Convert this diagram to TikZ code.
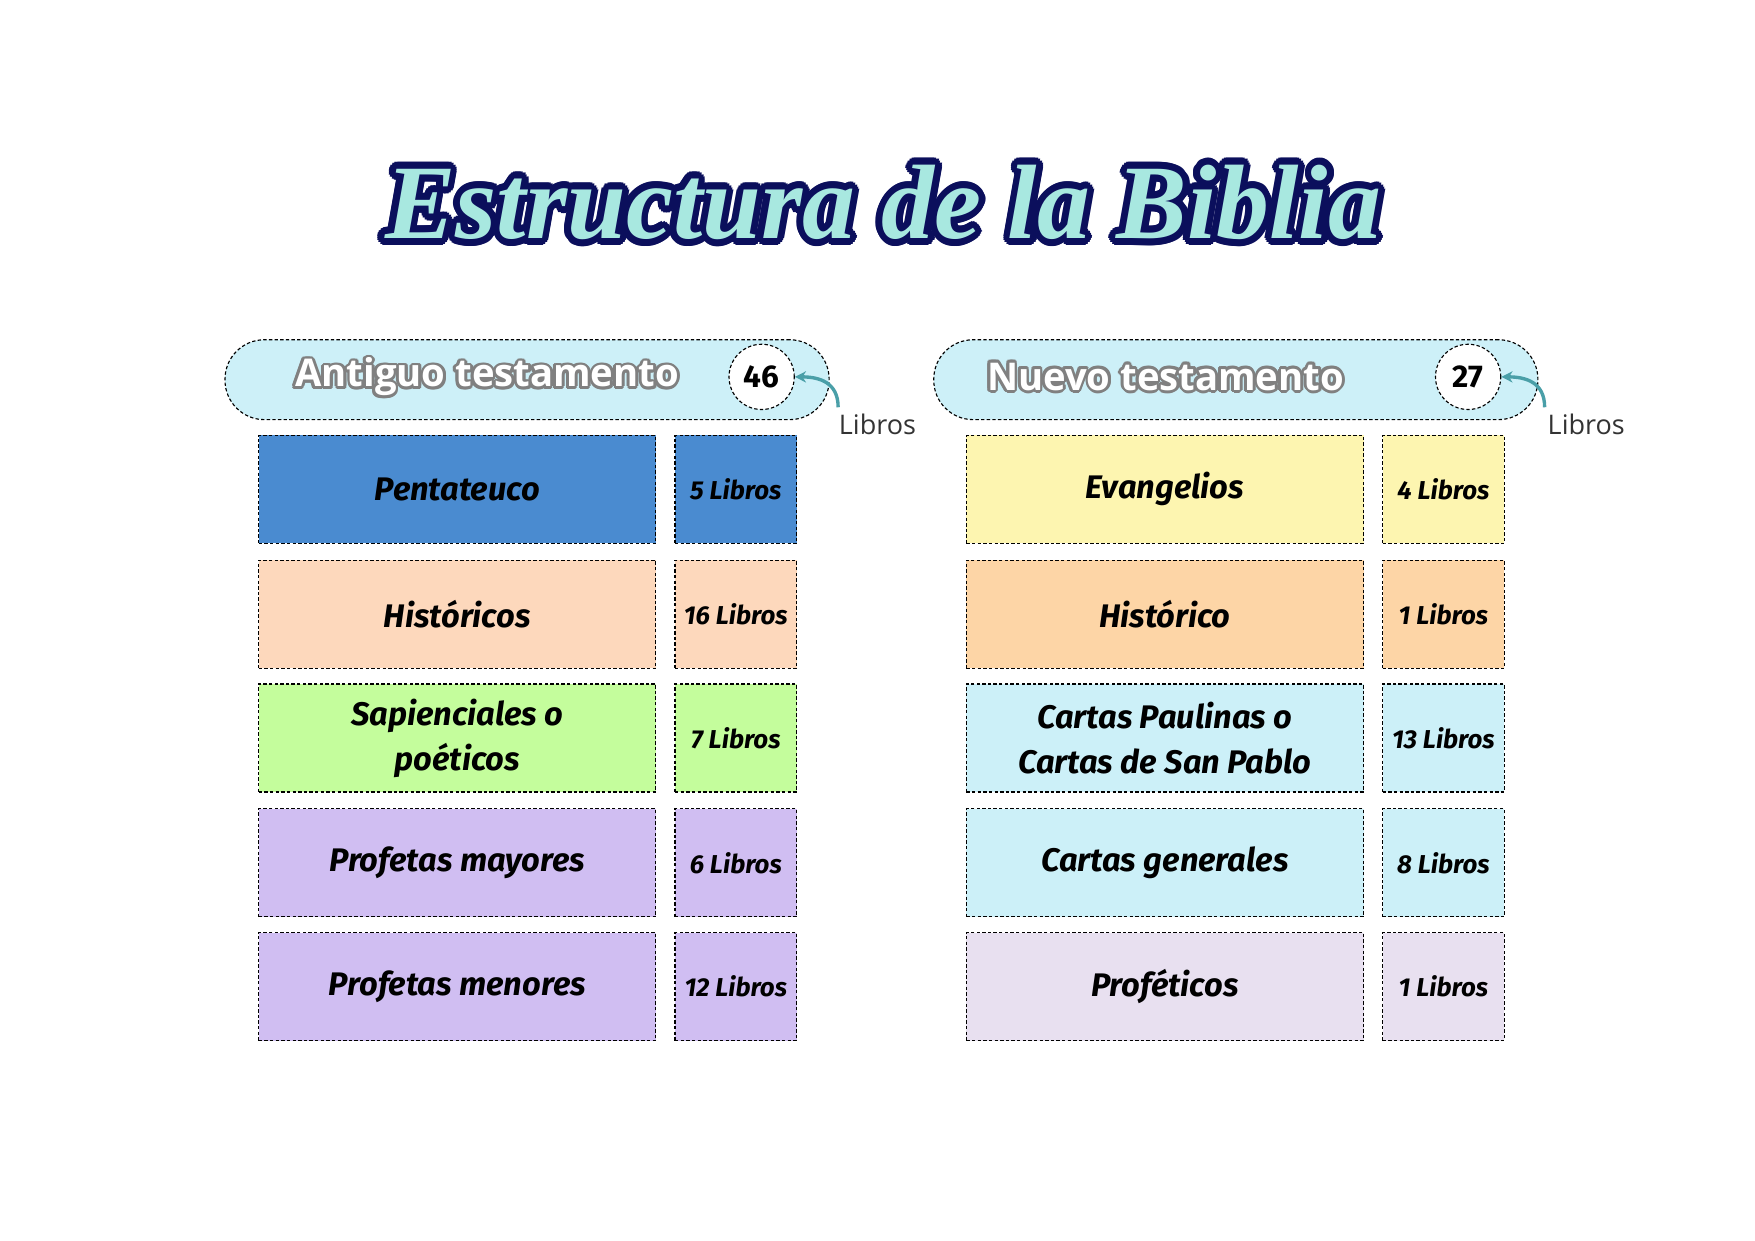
\documentclass[tikz,border=0pt]{standalone}
\usepackage{fontspec}
\setmainfont{Fira Sans}
\newfontfamily\titlefont{Liberation Serif}
\newfontfamily\handfont{Open Sans}
\usetikzlibrary{positioning,arrows.meta,calc}
\definecolor{navy}{HTML}{0B0F5C}
\definecolor{mint}{HTML}{A8E8E0}
\definecolor{pill}{HTML}{CDF0F8}
\definecolor{teal}{HTML}{4A9FA8}
\definecolor{penta}{HTML}{4A8BD0}
\definecolor{hist}{HTML}{FDD8BC}
\definecolor{sapi}{HTML}{C4FD9C}
\definecolor{prof}{HTML}{D0BEF2}
\definecolor{evan}{HTML}{FDF5B0}
\definecolor{histn}{HTML}{FDD5A6}
\definecolor{carta}{HTML}{CCF0F8}
\definecolor{profn}{HTML}{E8E0F0}
\tikzset{
  box/.style={draw, dashed, line width=1pt, dash pattern=on 3pt off 2pt, minimum height=96pt,
    align=center, font=\fontsize{29}{40}\selectfont\bfseries\itshape},
  big/.style={box, minimum width=353pt},
  small/.style={box, minimum width=108pt, font=\fontsize{23}{30}\selectfont\bfseries\itshape},
  band/.style={draw, dashed, line width=1pt, dash pattern=on 3pt off 2pt, fill=pill,
    rounded corners=35pt, minimum width=537pt, minimum height=71pt},
  count/.style={draw, dashed, line width=1pt, dash pattern=on 3pt off 2pt, fill=white,
    circle, minimum size=58pt, font=\fontsize{28}{30}\selectfont\bfseries},
  libros/.style={font=\fontsize{24}{26}\selectfont\handfont, text=black!80},
  curl/.style={-{Stealth[length=10pt,width=10pt]}, teal, line width=3pt},
  heading/.style={font=\fontsize{34}{36}\selectfont\handfont\bfseries}
}
\begin{document}
\begin{tikzpicture}[x=1pt,y=1pt,yscale=-1]
\useasboundingbox[fill=white] (0,0) rectangle (1560,1103);
% title
\foreach \a in {0,20,...,340}
  \node[text=navy, font=\fontsize{94}{100}\selectfont\titlefont\bfseries\itshape] at ($(785,180)+(\a:6)$) {Estructura de la Biblia};
\node (title) [text=mint, font=\fontsize{94}{100}\selectfont\titlefont\bfseries\itshape] at (785,180) {Estructura de la Biblia};

% antiguo testamento
\node (bandA) [band] at (468.5,337.5) {};
\foreach \a in {0,30,...,330}
  \node[text=gray, heading] at ($(433,335)+(\a:2.5)$) {Antiguo testamento};
\node (textA) [text=white, heading] at (433,335) {Antiguo testamento};
\node (numA) [count] at (677,335) {46};
\node (libA) [libros] at (780,377) {Libros};
\draw[curl] (745,362) to[out=-90,in=0, looseness=1.2] (numA.east);

\node (pen) [big, fill=penta] at (406.5,435) {Pentateuco};
\node (penN) [small, fill=penta] at (654,435) {5 Libros};
\node (his) [big, fill=hist] at (406.5,546) {Históricos};
\node (hisN) [small, fill=hist] at (654,546) {16 Libros};
\node (sap) [big, fill=sapi] at (406.5,656) {Sapienciales o\\poéticos};
\node (sapN) [small, fill=sapi] at (654,656) {7 Libros};
\node (may) [big, fill=prof] at (406.5,767) {Profetas mayores};
\node (mayN) [small, fill=prof] at (654,767) {6 Libros};
\node (men) [big, fill=prof] at (406.5,877) {Profetas menores};
\node (menN) [small, fill=prof] at (654,877) {12 Libros};

% nuevo testamento
\node (bandB) [band] at (1098.5,337.5) {};
\foreach \a in {0,30,...,330}
  \node[text=gray, heading] at ($(1036,335)+(\a:2.5)$) {Nuevo testamento};
\node (textB) [text=white, heading] at (1036,335) {Nuevo testamento};
\node (numB) [count] at (1305,335) {27};
\node (libB) [libros] at (1410,377) {Libros};
\draw[curl] (1373,362) to[out=-90,in=0, looseness=1.2] (numB.east);

\node (eva) [big, fill=evan] at (1035.5,435) {Evangelios};
\node (evaN) [small, fill=evan] at (1283,435) {4 Libros};
\node (hst) [big, fill=histn] at (1035.5,546) {Histórico};
\node (hstN) [small, fill=histn] at (1283,546) {1 Libros};
\node (pab) [big, fill=carta] at (1035.5,656) {Cartas Paulinas o\\Cartas de San Pablo};
\node (pabN) [small, fill=carta] at (1283,656) {13 Libros};
\node (gen) [big, fill=carta] at (1035.5,767) {Cartas generales};
\node (genN) [small, fill=carta] at (1283,767) {8 Libros};
\node (pro) [big, fill=profn] at (1035.5,877) {Proféticos};
\node (proN) [small, fill=profn] at (1283,877) {1 Libros};
\end{tikzpicture}
\end{document}
